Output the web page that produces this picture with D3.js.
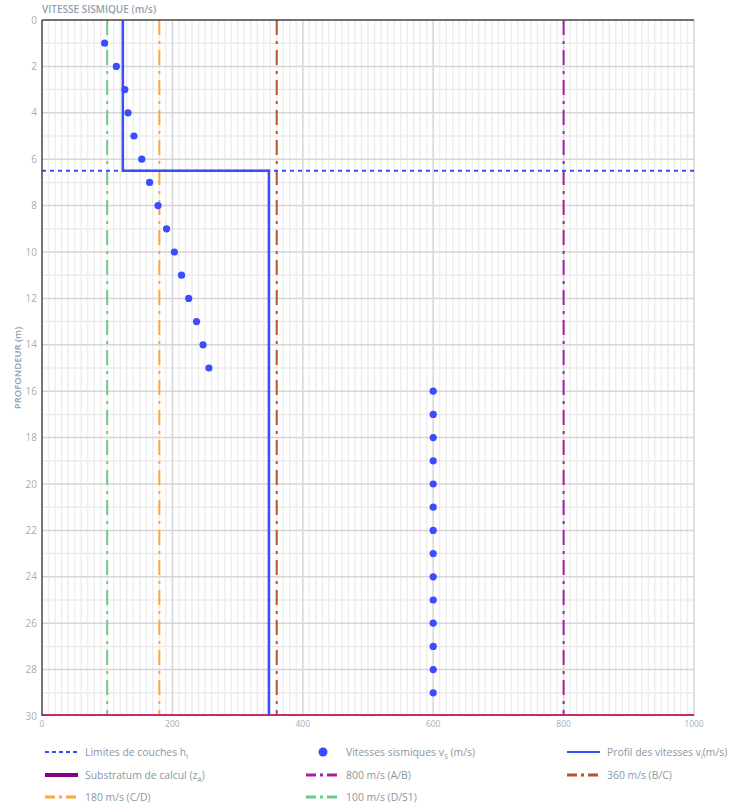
<!DOCTYPE html>
<html>
	<head>
		<meta charset="UTF-8">
		<title>Profil de vitesses sismiques</title>
		<script src="https://cdn.jsdelivr.net/npm/d3@7"></script>
		<style>
			body { margin: 0; background: #fff; }
			svg text { font-family: "Open Sans", sans-serif; }
		</style>
	</head>
	<body>
		<div id="chart"></div>
		<script>
			// measured seismic velocities (m/s) per depth (m)
			const depths = [1, 2, 3, 4, 5, 6, 7, 8, 9, 10, 11, 12, 13, 14, 15, 16, 17, 18, 19, 20, 21, 22, 23, 24, 25, 26, 27, 28, 29];
			const velocities = [96, 114, 127, 132, 141, 153, 165, 178, 191, 203, 214, 225, 237, 247, 256, 600, 600, 600, 600, 600, 600, 600, 600, 600, 600, 600, 600, 600, 600];

			// layer model
			const layerTops = [0, 6.5];
			const layerBottoms = [6.5, 30];
			const layerVelocities = [124, 348];
			const layerLimits = [6.5, 30];
			const substratumDepth = 30;

			// class thresholds
			const thresholdValues = [800, 360, 180, 100];
			const thresholdLabels = ["800 m/s (A/B)", "360 m/s (B/C)", "180 m/s (C/D)", "100 m/s (D/S1)"];
			const thresholdColors = ["#a51fa5", "#b9532a", "#ffa53a", "#6acb86"];

			const xTicks = [0, 200, 400, 600, 800, 1000];
			const yTicks = [0, 2, 4, 6, 8, 10, 12, 14, 16, 18, 20, 22, 24, 26, 28, 30];

			const w = 732;
			const h = 803;
			const pLeft = 42, pRight = 694, pTop = 20, pBottom = 716;

			const blue = "#3a4cff";
			const labelColor = "#a4afba";
			const legendColor = "#8a96a2";

			const svg = d3.select("#chart")
						  .append("svg")
						  .attr("width", w)
						  .attr("height", h);

			const xScale = d3.scaleLinear().domain([0, 1000]).range([pLeft, pRight]);
			const yScale = d3.scaleLinear().domain([0, 30]).range([pTop, pBottom]);

			svg.append("clipPath")
			   .attr("id", "plotclip")
			   .append("rect")
			   .attr("x", pLeft)
			   .attr("y", pTop)
			   .attr("width", pRight - pLeft)
			   .attr("height", pBottom - pTop);

			// grid
			const grid = svg.append("g");
			grid.selectAll(".vminor")
				.data(d3.range(0, 1001, 10).filter(v => v % 200 !== 0))
				.enter()
				.append("line")
				.attr("x1", d => xScale(d)).attr("x2", d => xScale(d))
				.attr("y1", pTop).attr("y2", pBottom)
				.attr("stroke", "#eeeeee").attr("stroke-width", 1.5);
			grid.selectAll(".hminor")
				.data(d3.range(1, 30, 2))
				.enter()
				.append("line")
				.attr("x1", pLeft).attr("x2", pRight)
				.attr("y1", d => yScale(d)).attr("y2", d => yScale(d))
				.attr("stroke", "#ececec").attr("stroke-width", 1.5);
			grid.selectAll(".vmajor")
				.data(xTicks.slice(1))
				.enter()
				.append("line")
				.attr("x1", d => xScale(d)).attr("x2", d => xScale(d))
				.attr("y1", pTop).attr("y2", pBottom)
				.attr("stroke", "#d6d6d6").attr("stroke-width", 1.5);
			grid.selectAll(".hmajor")
				.data(yTicks.slice(1, -1))
				.enter()
				.append("line")
				.attr("x1", pLeft).attr("x2", pRight)
				.attr("y1", d => yScale(d)).attr("y2", d => yScale(d))
				.attr("stroke", "#d6d6d6").attr("stroke-width", 1.5);

			const plot = svg.append("g").attr("clip-path", "url(#plotclip)");

			// threshold lines
			thresholdValues.forEach((v, i) => {
				plot.append("line")
					.attr("x1", xScale(v)).attr("x2", xScale(v))
					.attr("y1", pTop).attr("y2", pBottom)
					.attr("stroke", thresholdColors[i])
					.attr("stroke-width", 2)
					.attr("stroke-dasharray", "15,6,3,6");
			});

			// substratum
			plot.append("line")
				.attr("x1", pLeft).attr("x2", pRight)
				.attr("y1", yScale(substratumDepth)).attr("y2", yScale(substratumDepth))
				.attr("stroke", "#c03070")
				.attr("stroke-width", 4);

			// layer limits
			layerLimits.forEach(d => {
				plot.append("line")
					.attr("x1", pLeft).attr("x2", pRight)
					.attr("y1", yScale(d)).attr("y2", yScale(d))
					.attr("stroke", blue)
					.attr("stroke-width", 2)
					.attr("stroke-dasharray", "4,4");
			});

			// velocity profile
			const profilePts = [];
			layerVelocities.forEach((v, i) => {
				profilePts.push([v, layerTops[i]]);
				profilePts.push([v, layerBottoms[i]]);
			});
			plot.append("path")
				.datum(profilePts)
				.attr("d", d3.line().x(d => xScale(d[0])).y(d => yScale(d[1])))
				.attr("fill", "none")
				.attr("stroke", blue)
				.attr("stroke-width", 2.5);

			// measured points
			plot.selectAll("circle")
				.data(depths)
				.enter()
				.append("circle")
				.attr("cx", (d, i) => xScale(velocities[i]))
				.attr("cy", d => yScale(d))
				.attr("r", 3.6)
				.attr("fill", blue);

			// axis lines
			svg.append("line")
			   .attr("x1", pLeft).attr("x2", pLeft)
			   .attr("y1", pTop).attr("y2", pBottom)
			   .attr("stroke", "#444").attr("stroke-width", 1.5);
			svg.append("line")
			   .attr("x1", pLeft).attr("x2", pRight)
			   .attr("y1", pTop).attr("y2", pTop)
			   .attr("stroke", "#444").attr("stroke-width", 1.5);

			// tick labels
			svg.selectAll(".xlab")
			   .data(xTicks)
			   .enter()
			   .append("text")
			   .text(d => d)
			   .attr("x", d => xScale(d))
			   .attr("y", pBottom + 11)
			   .attr("text-anchor", "middle")
			   .style("font-size", "8.5px")
			   .attr("fill", labelColor);
			svg.selectAll(".ylab")
			   .data(yTicks)
			   .enter()
			   .append("text")
			   .text(d => d)
			   .attr("x", pLeft - 5)
			   .attr("y", d => yScale(d) + 3.5)
			   .attr("text-anchor", "end")
			   .style("font-size", "10px")
			   .attr("fill", labelColor);

			svg.append("text")
			   .text("VITESSE SISMIQUE (m/s)")
			   .attr("x", pLeft)
			   .attr("y", 13)
			   .style("font-size", "10px")
			   .style("font-weight", "600")
			   .attr("fill", "#90a0ae");
			svg.append("text")
			   .text("PROFONDEUR (m)")
			   .attr("transform", `translate(21, ${(pTop + pBottom) / 2}) rotate(-90)`)
			   .attr("text-anchor", "middle")
			   .style("font-size", "9.5px")
			   .style("font-weight", "600")
			   .attr("fill", "#90a0ae");

			// legend
			const colX = [45, 306, 567];
			const rowY = [752, 775, 797];
			const legendItems = [
				{ type: "dash", color: blue, dash: "4,3", width: 2, text: ["Limites de couches h", "i", ""] },
				{ type: "dot", color: blue, text: ["Vitesses sismiques v", "S", " (m/s)"] },
				{ type: "dash", color: blue, dash: null, width: 2, text: ["Profil des vitesses v", "i", "(m/s)"] },
				{ type: "dash", color: "#800080", dash: null, width: 4, text: ["Substratum de calcul (z", "A", ")"] }
			];
			thresholdLabels.forEach((t, i) => {
				legendItems.push({ type: "dash", color: thresholdColors[i], dash: "10,4,3,4", width: 3, text: [t, "", ""] });
			});

			legendItems.forEach((item, i) => {
				const x = colX[i % 3];
				const y = rowY[Math.floor(i / 3)];
				if (item.type === "dot") {
					svg.append("circle")
					   .attr("cx", x + 17).attr("cy", y)
					   .attr("r", 4.5)
					   .attr("fill", item.color);
				} else {
					svg.append("line")
					   .attr("x1", x).attr("x2", x + 33)
					   .attr("y1", y).attr("y2", y)
					   .attr("stroke", item.color)
					   .attr("stroke-width", item.width)
					   .attr("stroke-dasharray", item.dash);
				}
				const txt = svg.append("text")
							   .attr("x", x + 40)
							   .attr("y", y + 4)
							   .style("font-size", "10.4px")
							   .attr("fill", legendColor);
				txt.append("tspan").text(item.text[0]);
				if (item.text[1]) {
					txt.append("tspan")
					   .text(item.text[1])
					   .attr("dy", 2.5)
					   .style("font-size", "7px");
					txt.append("tspan")
					   .text(item.text[2])
					   .attr("dy", -2.5);
				}
			});
		</script>
	</body>
</html>
